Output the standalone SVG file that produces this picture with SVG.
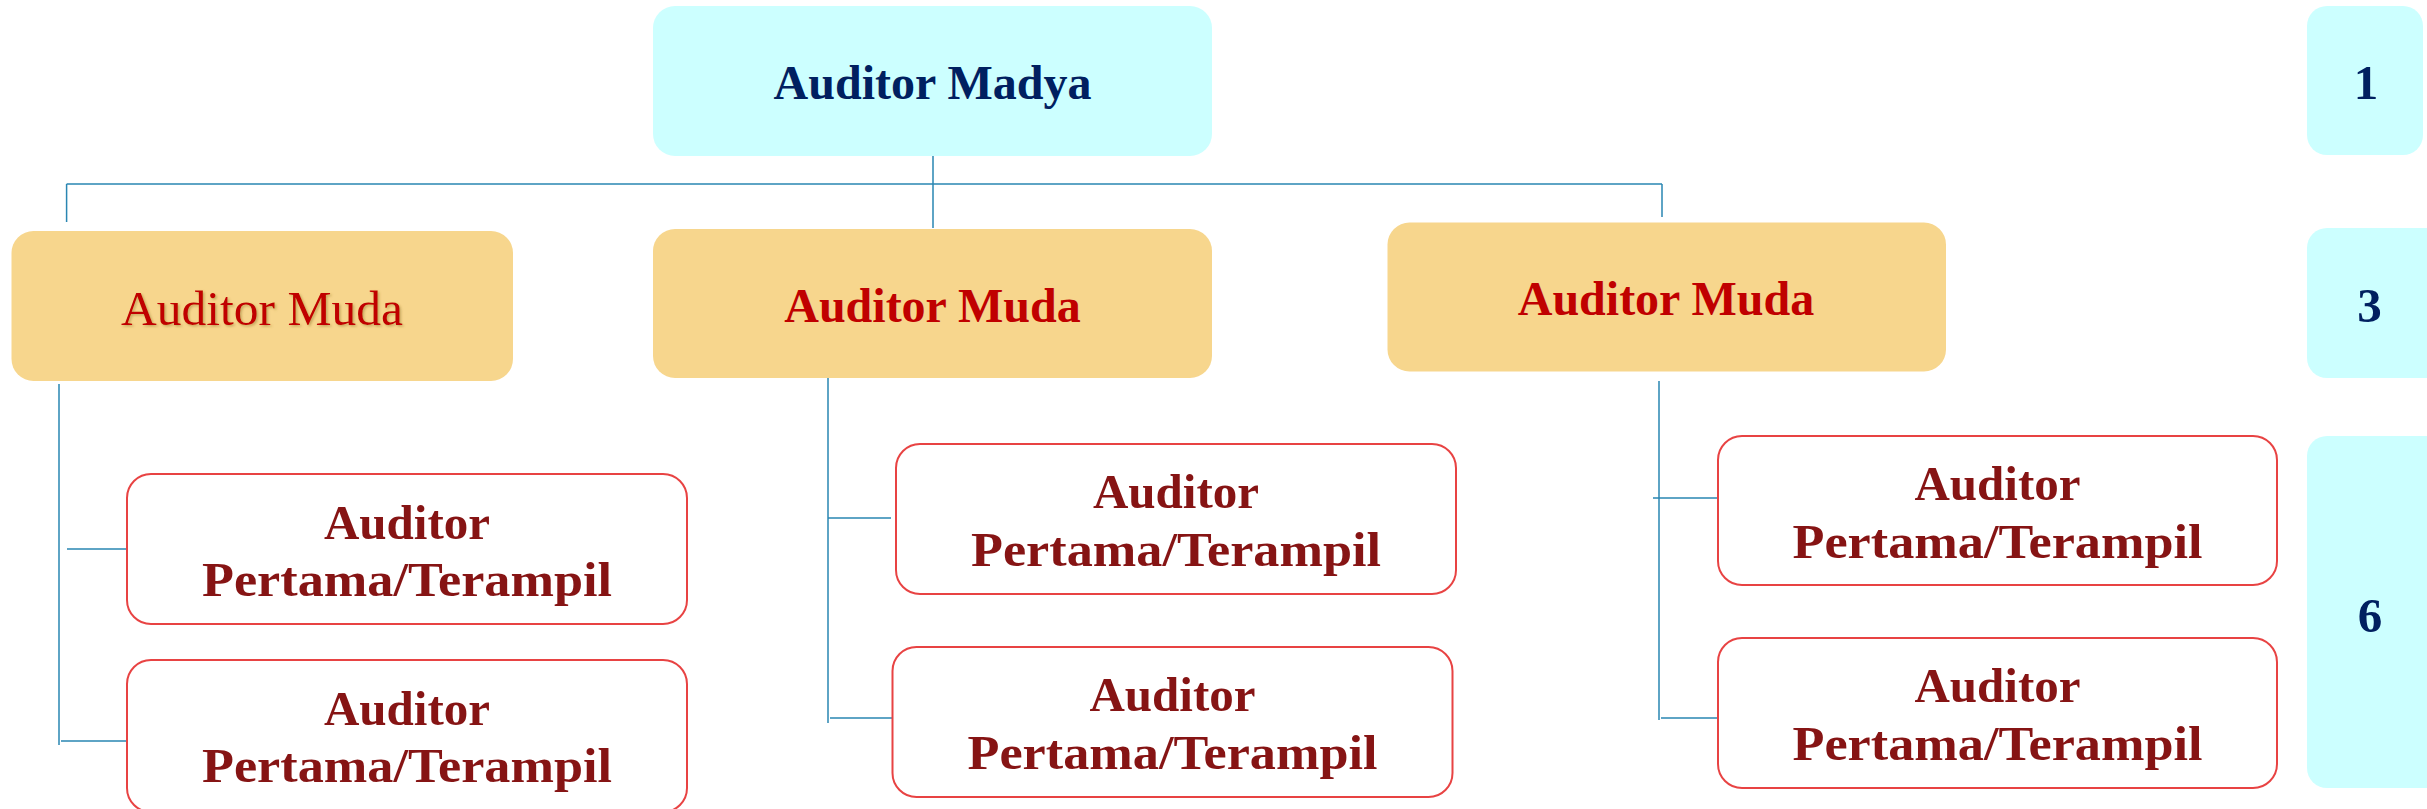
<svg xmlns="http://www.w3.org/2000/svg" width="2427" height="809" viewBox="0 0 2427 809">
<style>
.cyan{fill:#CCFFFF}
.muda{fill:#F7D68D}
.pt{fill:#FFFFFF;stroke:#E84343;stroke-width:2}
.t{font-family:"Liberation Serif",serif;text-anchor:middle}
.navy{fill:#002060;font-weight:bold}
.red{fill:#C00000}
.dred{fill:#861414;font-weight:bold;font-size:49px}
.ln{stroke:#2A86B2;stroke-width:1.5;fill:none}
</style>
<defs>
<filter id="sh" x="-10%" y="-20%" width="120%" height="140%">
<feDropShadow dx="1.5" dy="1.5" stdDeviation="1.2" flood-color="#8a6a20" flood-opacity="0.45"/>
</filter>
</defs>
<rect width="2427" height="809" fill="#FFFFFF"/>
<g id="connectors">
<path class="ln" d="M66.6 184 H1662 M66.6 184 V222 M933 156 V228 M1662 184 V217"/>
<path class="ln" d="M59 384 V745 M67 549 H130 M61 741 H126"/>
<path class="ln" d="M828 378 V723 M828 518 H891 M830 718 H894"/>
<path class="ln" d="M1659 381 V720 M1653 498 H1717 M1661 718 H1724"/>
</g>
<g id="madya">
<rect class="cyan" x="653" y="6" width="559" height="150" rx="22"/>
<text class="t navy" x="932.5" y="99" font-size="48">Auditor Madya</text>
</g>
<g id="muda1">
<rect class="muda" x="11.5" y="231" width="501.5" height="150" rx="22"/>
<text class="t red" x="262" y="325" font-size="49.5" filter="url(#sh)">Auditor Muda</text>
</g>
<g id="muda2">
<rect class="muda" x="653" y="229" width="559" height="149" rx="22"/>
<text class="t red" x="932.5" y="322" font-size="48" font-weight="bold">Auditor Muda</text>
</g>
<g id="muda3">
<rect class="muda" x="1387.5" y="222.5" width="558.5" height="149" rx="22"/>
<text class="t red" x="1666" y="315" font-size="48" font-weight="bold">Auditor Muda</text>
</g>
<g id="pt1">
<rect class="pt" x="127" y="474" width="560" height="150" rx="24"/>
<text class="t dred" x="407" y="539">Auditor</text>
<text class="t dred" x="407" y="596" textLength="410" lengthAdjust="spacingAndGlyphs">Pertama/Terampil</text>
</g>
<g id="pt2">
<rect class="pt" x="127" y="660" width="560" height="152" rx="24"/>
<text class="t dred" x="407" y="725">Auditor</text>
<text class="t dred" x="407" y="782" textLength="410" lengthAdjust="spacingAndGlyphs">Pertama/Terampil</text>
</g>
<g id="pt3">
<rect class="pt" x="896" y="444" width="560" height="150" rx="24"/>
<text class="t dred" x="1176" y="508">Auditor</text>
<text class="t dred" x="1176" y="566" textLength="410" lengthAdjust="spacingAndGlyphs">Pertama/Terampil</text>
</g>
<g id="pt4">
<rect class="pt" x="892.5" y="647" width="560" height="150" rx="24"/>
<text class="t dred" x="1172.5" y="711">Auditor</text>
<text class="t dred" x="1172.5" y="769" textLength="410" lengthAdjust="spacingAndGlyphs">Pertama/Terampil</text>
</g>
<g id="pt5">
<rect class="pt" x="1718" y="436" width="559" height="149" rx="24"/>
<text class="t dred" x="1997.5" y="500">Auditor</text>
<text class="t dred" x="1997.5" y="558" textLength="410" lengthAdjust="spacingAndGlyphs">Pertama/Terampil</text>
</g>
<g id="pt6">
<rect class="pt" x="1718" y="638" width="559" height="150" rx="24"/>
<text class="t dred" x="1997.5" y="702">Auditor</text>
<text class="t dred" x="1997.5" y="760" textLength="410" lengthAdjust="spacingAndGlyphs">Pertama/Terampil</text>
</g>
<g id="n1">
<rect class="cyan" x="2307" y="6" width="116" height="149" rx="20"/>
<text class="t navy" x="2366" y="99" font-size="49">1</text>
</g>
<g id="n3">
<rect class="cyan" x="2307" y="228" width="140" height="150" rx="20"/>
<text class="t navy" x="2369.5" y="321.5" font-size="49">3</text>
</g>
<g id="n6">
<rect class="cyan" x="2307" y="436" width="140" height="352" rx="20"/>
<text class="t navy" x="2370" y="632" font-size="49">6</text>
</g>
</svg>
